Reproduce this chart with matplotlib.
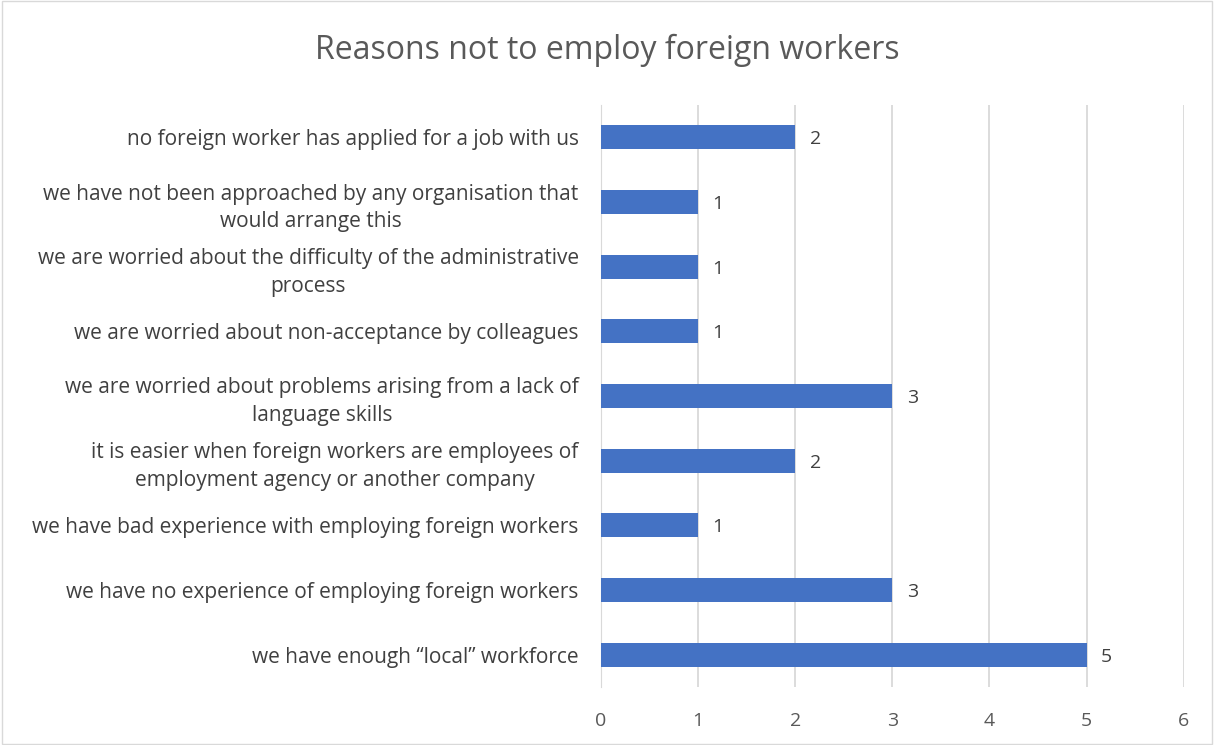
import matplotlib.pyplot as plt
import numpy as np

plt.rcParams['font.family'] = ['Open Sans', 'DejaVu Sans']

reasons = [
    "no foreign worker has applied for a job with us",
    "we have not been approached by any organisation that\nwould arrange this",
    "we are worried about the difficulty of the administrative\nprocess",
    "we are worried about non-acceptance by colleagues",
    "we are worried about problems arising from a lack of\nlanguage skills",
    "it is easier when foreign workers are employees of\nemployment agency or another company",
    "we have bad experience with employing foreign workers",
    "we have no experience of employing foreign workers",
    "we have enough \u201clocal\u201d workforce",
]
counts = [2, 1, 1, 1, 3, 2, 1, 3, 5]

text_col = '#595959'
fig = plt.figure(figsize=(12.14, 7.45), dpi=100)
ax = fig.add_axes([0.495, 0.078, 0.48, 0.781])

y = np.arange(len(reasons))[::-1]
ax.barh(y, counts, height=0.37, color='#4472C4', zorder=3)
for yi, c in zip(y, counts):
    ax.text(c + 0.15, yi - 0.03, str(c), va='center', ha='left', fontsize=14, color='#404040')

ax.set_xlim(0, 6)
ax.set_ylim(-0.5, len(reasons) - 0.5)
ax.set_xticks(range(7))
ax.set_yticks(y)
ax.set_yticklabels(reasons, fontsize=15, color='#404040', multialignment='center',
                   linespacing=1.4)
ax.tick_params(axis='y', length=0, pad=16)
ax.tick_params(axis='x', length=0, labelsize=14, labelcolor=text_col, pad=18)
ax.grid(axis='x', color='#d9d9d9', linewidth=1.3, zorder=0)
for s in ['top', 'right', 'bottom']:
    ax.spines[s].set_visible(False)
ax.spines['left'].set_color('#d9d9d9')

fig.text(0.5, 0.932, 'Reasons not to employ foreign workers', ha='center', va='center',
         fontsize=23, color=text_col)

# light frame round the whole chart
fig.patches.append(plt.Rectangle((0.002, 0.002), 0.996, 0.996, transform=fig.transFigure,
                                 fill=False, edgecolor='#d9d9d9', linewidth=1))

fig.savefig('out.png', dpi=100)
